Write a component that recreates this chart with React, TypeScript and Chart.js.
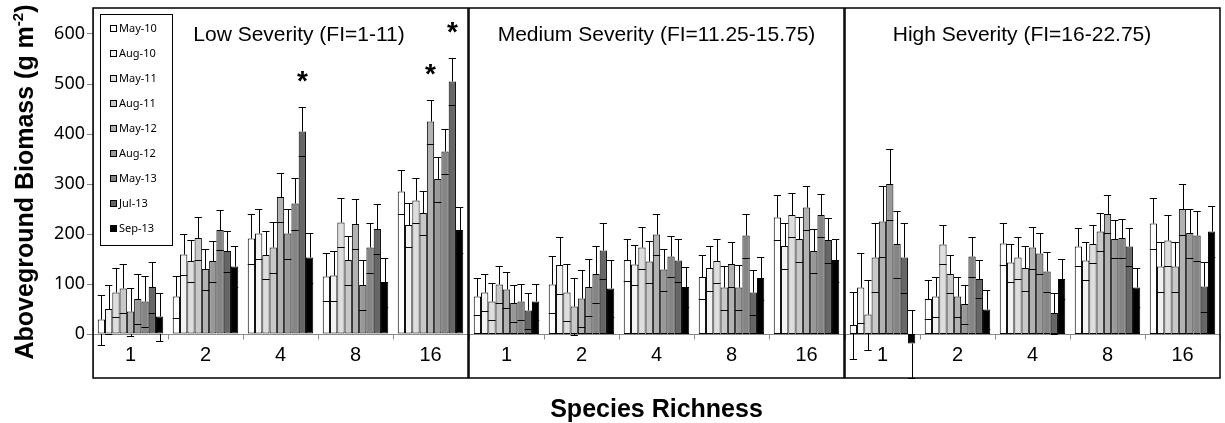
import React, { useEffect, useRef } from "react";
import { Chart, registerables } from "chart.js";

Chart.register(...registerables);

// ---------- data ----------
const categories = ["1", "2", "4", "8", "16"];
const seriesNames = ["May-10", "Aug-10", "May-11", "Aug-11", "May-12", "Aug-12", "May-13", "Jul-13", "Sep-13"];
const seriesColors = ["#ffffff", "#f2f2f2", "#dedede", "#c8c8c8", "#b2b2b2", "#999999", "#858585", "#666666", "#000000"];
const yTickValues = [0, 100, 200, 300, 400, 500, 600];
const yMin = -88;
const yMax = 652;
const panelTitles = ["Low Severity (FI=1-11)", "Medium Severity (FI=11.25-15.75)", "High Severity (FI=16-22.75)"];
const yAxisTitleParts = ["Aboveground Biomass (g m", "-2", ")"];
const xAxisTitle = "Species Richness";

// rows = series (May-10 ... Sep-13), columns = species richness 1,2,4,8,16
const lowMeans = [
  [29, 75, 191, 115, 285],
  [50, 159, 201, 117, 218],
  [83, 146, 158, 223, 267],
  [91, 192, 173, 148, 242],
  [45, 130, 274, 220, 425],
  [70, 146, 201, 98, 310],
  [65, 208, 261, 173, 365],
  [94, 166, 405, 210, 505],
  [35, 135, 153, 104, 208],
];
const lowErrors = [
  [50, 42, 50, 48, 44],
  [49, 41, 50, 50, 44],
  [49, 42, 48, 49, 45],
  [49, 43, 51, 49, 44],
  [48, 41, 49, 49, 44],
  [50, 41, 50, 50, 45],
  [51, 40, 52, 50, 45],
  [51, 41, 49, 50, 47],
  [48, 41, 50, 49, 45],
];
// significance stars: [category index, series index]
const lowStars = [[2, 7], [4, 4], [4, 7]];

const midMeans = [
  [75, 99, 148, 114, 233],
  [83, 138, 139, 132, 176],
  [65, 83, 173, 146, 238],
  [99, 55, 145, 93, 190],
  [89, 71, 199, 140, 253],
  [62, 94, 129, 93, 166],
  [65, 120, 155, 197, 238],
  [47, 167, 147, 83, 188],
  [65, 91, 94, 112, 148],
];
const midErrors = [
  [37, 57, 42, 44, 45],
  [37, 57, 40, 45, 46],
  [37, 57, 42, 43, 44],
  [37, 57, 42, 44, 45],
  [36, 57, 42, 45, 44],
  [37, 57, 42, 45, 44],
  [36, 57, 41, 44, 43],
  [36, 56, 42, 45, 45],
  [36, 57, 40, 43, 43],
];
const midStars: number[][] = [];

const highMeans = [
  [18, 70, 181, 175, 221],
  [93, 75, 143, 147, 135],
  [39, 179, 153, 180, 187],
  [153, 120, 132, 205, 135],
  [225, 75, 173, 240, 250],
  [300, 60, 161, 190, 202],
  [180, 155, 125, 192, 197],
  [153, 110, 42, 175, 95],
  [-19, 49, 110, 93, 205],
];
const highErrors = [
  [67, 39, 42, 38, 51],
  [70, 40, 38, 38, 50],
  [70, 39, 42, 38, 50],
  [68, 38, 45, 38, 50],
  [70, 40, 42, 38, 51],
  [71, 39, 41, 38, 49],
  [67, 40, 40, 39, 50],
  [70, 38, 41, 38, 50],
  [68, 39, 40, 39, 50],
];
const highStars: number[][] = [];

// ---------- layout ----------
const W = 1225;
const H = 423;
const panelLefts = [93, 469, 845];
const panelWidth = 375;
const plotTop = 8;
const plotBottom = 378;
const titleOffsets = [206, 187.5, 177];

const panels = [
  { means: lowMeans, errors: lowErrors, stars: lowStars, title: panelTitles[0] },
  { means: midMeans, errors: midErrors, stars: midStars, title: panelTitles[1] },
  { means: highMeans, errors: highErrors, stars: highStars, title: panelTitles[2] },
];

function panelPlugin(p: number, panel: any) {
  return {
    id: "panelDecor" + p,
    beforeDatasetsDraw(chart: any) {
      const { ctx, chartArea, scales } = chart;
      const y0 = Math.round(scales.y.getPixelForValue(0)) + 0.5;
      ctx.save();
      ctx.strokeStyle = "#8c8c8c";
      ctx.lineWidth = 1;
      ctx.beginPath();
      ctx.moveTo(chartArea.left, y0);
      ctx.lineTo(chartArea.right, y0);
      for (let i = 0; i <= categories.length; i++) {
        const x = Math.round(scales.x.getPixelForValue(i - 0.5)) + 0.5;
        ctx.moveTo(x, y0);
        ctx.lineTo(x, y0 + 5);
      }
      ctx.stroke();
      ctx.restore();
    },
    afterDatasetsDraw(chart: any) {
      const { ctx, scales } = chart;
      const ys = scales.y;
      ctx.save();
      ctx.strokeStyle = "#000";
      ctx.lineWidth = 1;
      chart.data.datasets.forEach((ds: any, di: number) => {
        const meta = chart.getDatasetMeta(di);
        meta.data.forEach((bar: any, i: number) => {
          const v = ds.data[i];
          const e = panel.errors[di][i];
          const x = Math.round(bar.x) + 0.5;
          const hw = bar.width / 2;
          const pTop = Math.round(ys.getPixelForValue(v + e)) + 0.5;
          const pBot = Math.round(ys.getPixelForValue(v - e)) + 0.5;
          const pV = ys.getPixelForValue(v);
          const p0 = ys.getPixelForValue(0);
          const segs: number[][] = [];
          if (v >= 0) {
            segs.push([pTop, pV]);
            if (v - e < 0) segs.push([p0, pBot]);
          } else {
            segs.push([pV, pBot]);
            if (v + e > 0) segs.push([pTop, p0]);
          }
          ctx.beginPath();
          segs.forEach(([a, b]) => {
            ctx.moveTo(x, a);
            ctx.lineTo(x, b);
          });
          ctx.moveTo(bar.x - hw, pTop);
          ctx.lineTo(bar.x + hw, pTop);
          ctx.moveTo(bar.x - hw, pBot);
          ctx.lineTo(bar.x + hw, pBot);
          ctx.stroke();
        });
      });
      ctx.restore();
    },
    afterDraw(chart: any) {
      const { ctx, chartArea, scales } = chart;
      const ys = scales.y;
      const xs = scales.x;
      ctx.save();
      // panel frame
      ctx.strokeStyle = "#000";
      ctx.lineWidth = 1.5;
      ctx.strokeRect(chartArea.left, chartArea.top, chartArea.right - chartArea.left, chartArea.bottom - chartArea.top);

      // category labels
      const y0 = ys.getPixelForValue(0);
      ctx.fillStyle = "#000";
      ctx.font = '20px "Liberation Sans"';
      ctx.textAlign = "center";
      ctx.textBaseline = "alphabetic";
      categories.forEach((c, i) => {
        ctx.fillText(c, xs.getPixelForValue(i), y0 + 27);
      });

      // panel title
      ctx.font = '21px "Liberation Sans"';
      ctx.fillText(panel.title, chartArea.left + titleOffsets[p], 41);

      // stars
      ctx.font = 'bold 28px "Liberation Sans"';
      panel.stars.forEach(([c, s]: number[]) => {
        const bar = chart.getDatasetMeta(s).data[c];
        const v = panel.means[s][c] + panel.errors[s][c];
        const yc = ys.getPixelForValue(v) - 28;
        ctx.fillText("*", bar.x, yc + 11);
      });

      if (p === 0) {
        // legend
        const lx = 100, ly = 14, lw = 72, lh = 231;
        ctx.fillStyle = "#fff";
        ctx.fillRect(lx, ly, lw, lh);
        ctx.lineWidth = 1;
        ctx.strokeStyle = "#000";
        ctx.strokeRect(lx + 0.5, ly + 0.5, lw, lh);
        ctx.font = '11px "Noto Sans"';
        ctx.textAlign = "left";
        seriesNames.forEach((name, s) => {
          const cy = 28 + 25 * s;
          ctx.fillStyle = seriesColors[s];
          ctx.fillRect(110, Math.round(cy - 3.5), 7, 7);
          ctx.strokeStyle = "#000";
          ctx.strokeRect(110.5, Math.round(cy - 3.5) + 0.5, 6, 6);
          ctx.fillStyle = "#000";
          ctx.fillText(name, 119, cy + 4);
        });

        // y axis title
        ctx.save();
        ctx.translate(33, 182);
        ctx.rotate(-Math.PI / 2);
        const mainFont = 'bold 25px "Liberation Sans"';
        const supFont = 'bold 15px "Liberation Sans"';
        ctx.font = mainFont;
        const w1 = ctx.measureText(yAxisTitleParts[0]).width;
        const w3 = ctx.measureText(yAxisTitleParts[2]).width;
        ctx.font = supFont;
        const w2 = ctx.measureText(yAxisTitleParts[1]).width;
        let x = -(w1 + w2 + w3) / 2;
        ctx.fillStyle = "#000";
        ctx.textAlign = "left";
        ctx.font = mainFont;
        ctx.fillText(yAxisTitleParts[0], x, 0);
        x += w1;
        ctx.font = supFont;
        ctx.fillText(yAxisTitleParts[1], x, -10);
        x += w2;
        ctx.font = mainFont;
        ctx.fillText(yAxisTitleParts[2], x, 0);
        ctx.restore();
      }

      if (p === 1) {
        ctx.fillStyle = "#000";
        ctx.font = 'bold 25px "Liberation Sans"';
        ctx.textAlign = "center";
        ctx.fillText(xAxisTitle, (chartArea.left + chartArea.right) / 2, 417);
      }
      ctx.restore();
    },
  };
}

function makeConfig(panel: any, p: number): any {
  const left = panelLefts[p];
  return {
    type: "bar",
    data: {
      labels: categories,
      datasets: seriesNames.map((name, s) => ({
        label: name,
        data: panel.means[s],
        backgroundColor: seriesColors[s],
        borderColor: "#000",
        borderWidth: 1,
        borderSkipped: false,
        categoryPercentage: 0.873,
        barPercentage: 1,
      })),
    },
    options: {
      responsive: false,
      maintainAspectRatio: false,
      animation: false,
      devicePixelRatio: 1,
      events: [],
      layout: {
        padding: {
          left: p === 0 ? 0 : left,
          right: W - left - panelWidth,
          top: plotTop,
          bottom: H - plotBottom,
        },
      },
      plugins: { legend: { display: false }, tooltip: { enabled: false }, title: { display: false } },
      scales: {
        x: { type: "category", display: false, offset: true },
        y: {
          type: "linear",
          min: yMin,
          max: yMax,
          display: p === 0,
          afterBuildTicks: (s: any) => {
            s.ticks = yTickValues.map((v) => ({ value: v }));
          },
          afterFit: (s: any) => {
            s.width = p === 0 ? left : 0;
            s.paddingTop = 0;
            s.paddingBottom = 0;
            s.paddingLeft = 0;
            s.paddingRight = 0;
          },
          ticks: { font: { family: "Noto Sans", size: 18 }, color: "#000", padding: 2 },
          grid: { drawOnChartArea: false, drawTicks: true, tickLength: 6, color: "#868686" },
          border: { display: true, color: "#868686" },
        },
      },
    },
    plugins: [panelPlugin(p, panel)],
  };
}

export default function App() {
  const r1 = useRef<HTMLCanvasElement>(null);
  const r2 = useRef<HTMLCanvasElement>(null);
  const r3 = useRef<HTMLCanvasElement>(null);

  useEffect(() => {
    document.body.style.margin = "0";
    const refs = [r1, r2, r3];
    const charts = panels.map((panel, p) => new Chart(refs[p].current as HTMLCanvasElement, makeConfig(panel, p)));
    return () => charts.forEach((c) => c.destroy());
  }, []);

  return (
    <div style={{ position: "absolute", left: 0, top: 0, width: W, height: H, background: "#fff" }}>
      {[r1, r2, r3].map((r, i) => (
        <canvas
          key={i}
          ref={r}
          width={W}
          height={H}
          style={{ position: "absolute", left: 0, top: 0, width: W, height: H }}
        />
      ))}
    </div>
  );
}
